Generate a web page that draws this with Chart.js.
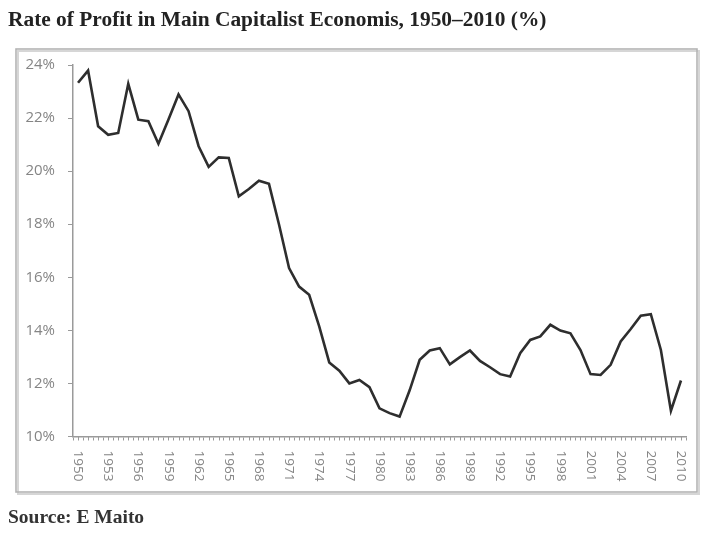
<!DOCTYPE html>
<html>
<head>
<meta charset="utf-8">
<script src="https://cdn.jsdelivr.net/npm/chart.js@4.4.0/dist/chart.umd.min.js"></script>
<style>
  body { margin: 0; background: #fff; }
  #wrap { position: relative; width: 703px; height: 540px; }
  #chart { position: absolute; left: 0; top: 0; }
  .title {
    position: absolute; left: 8px; top: 7px;
    font: bold 21.4px "Liberation Serif", "DejaVu Serif", serif;
    color: #222; white-space: nowrap;
  }
  .source {
    position: absolute; left: 8px; top: 506px;
    font: bold 19.5px "Liberation Serif", "DejaVu Serif", serif;
    color: #333; white-space: nowrap;
  }
</style>
</head>
<body>
<div id="wrap">
  <canvas id="chart" width="703" height="540"></canvas>
  <div class="title">Rate of Profit in Main Capitalist Economis, 1950–2010 (%)</div>
  <div class="source">Source: E Maito</div>
</div>
<script>
// years on the category axis
const years = [
  1950, 1951, 1952, 1953, 1954, 1955, 1956, 1957, 1958, 1959,
  1960, 1961, 1962, 1963, 1964, 1965, 1966, 1967, 1968, 1969,
  1970, 1971, 1972, 1973, 1974, 1975, 1976, 1977, 1978, 1979,
  1980, 1981, 1982, 1983, 1984, 1985, 1986, 1987, 1988, 1989,
  1990, 1991, 1992, 1993, 1994, 1995, 1996, 1997, 1998, 1999,
  2000, 2001, 2002, 2003, 2004, 2005, 2006, 2007, 2008, 2009,
  2010
];

// rate of profit, %
const profitRate = [
  23.33, 23.79, 21.69, 21.37, 21.44, 23.29, 21.94, 21.88, 21.03, 21.95,
  22.89, 22.26, 20.94, 20.16, 20.52, 20.50, 19.05, 19.33, 19.64, 19.52,
  17.99, 16.35, 15.65, 15.34, 14.15, 12.79, 12.48, 12.00, 12.13, 11.86,
  11.06, 10.88, 10.75, 11.74, 12.89, 13.24, 13.33, 12.72, 12.99, 13.24,
  12.85, 12.61, 12.35, 12.26, 13.14, 13.64, 13.77, 14.21, 13.99, 13.89,
  13.26, 12.35, 12.32, 12.70, 13.58, 14.05, 14.55, 14.61, 13.26, 10.97,
  12.11
];

// years that get a label under the axis
const labelYears = [
  1950, 1953, 1956, 1959, 1962, 1965, 1968, 1971, 1974, 1977, 1980,
  1983, 1986, 1989, 1992, 1995, 1998, 2001, 2004, 2007, 2010
];

const axisGrey = '#9a9a9a';
const labelGrey = '#858585';

// frame round the plot, drawn before everything else
const framePlugin = {
  id: 'frame',
  beforeDraw(chart) {
    const ctx = chart.ctx;
    ctx.save();
    ctx.fillStyle = '#fff';
    ctx.fillRect(0, 0, chart.width, chart.height);
    ctx.strokeStyle = '#d6d6d6';
    ctx.lineWidth = 2;
    ctx.strokeRect(18, 51, 681, 443);
    ctx.strokeStyle = '#b4b4b4';
    ctx.lineWidth = 1.6;
    ctx.strokeRect(16, 49, 681, 443);
    ctx.restore();
  }
};

// year labels turned clockwise, plus a small tick in the middle of every year
const yearLabels = {
  id: 'yearLabels',
  afterDraw(chart) {
    const ctx = chart.ctx;
    const x = chart.scales.x;
    const bottom = chart.chartArea.bottom;
    ctx.save();
    ctx.strokeStyle = axisGrey;
    ctx.lineWidth = 1;
    ctx.beginPath();
    for (let i = 0; i < years.length; i++) {
      const px = Math.round(x.getPixelForValue(i)) + 0.5;
      ctx.moveTo(px, bottom);
      ctx.lineTo(px, bottom + 4);
    }
    ctx.stroke();

    ctx.fillStyle = labelGrey;
    ctx.font = '13.5px "Open Sans", sans-serif';
    ctx.textAlign = 'left';
    ctx.textBaseline = 'middle';
    labelYears.forEach(function (yr) {
      const px = x.getPixelForValue(years.indexOf(yr));
      ctx.save();
      ctx.translate(px, bottom + 14);
      ctx.rotate(Math.PI / 2);
      ctx.fillText(String(yr), 0, 0);
      ctx.restore();
    });
    ctx.restore();
  }
};

new Chart(document.getElementById('chart'), {
  type: 'line',
  data: {
    labels: years,
    datasets: [{
      data: profitRate,
      borderColor: '#2e2e2e',
      borderWidth: 2.6,
      pointRadius: 0,
      tension: 0,
      fill: false
    }]
  },
  options: {
    responsive: false,
    animation: false,
    devicePixelRatio: 1,
    layout: { padding: { left: 16, top: 65, right: 17, bottom: 48 } },
    plugins: {
      legend: { display: false },
      tooltip: { enabled: false }
    },
    scales: {
      x: {
        type: 'category',
        offset: true,
        afterFit(scale) { scale.height = 55.5; },
        ticks: { display: false },
        grid: {
          offset: true,
          drawOnChartArea: false,
          drawTicks: true,
          tickLength: 4,
          color: axisGrey,
          lineWidth: 1
        },
        border: { color: axisGrey, width: 1.5 }
      },
      y: {
        min: 10,
        max: 24,
        afterFit(scale) { scale.width = 57; },
        ticks: {
          stepSize: 2,
          padding: 13,
          color: labelGrey,
          font: { family: '"Open Sans", sans-serif', size: 15 },
          callback: function (v) { return v + '%'; }
        },
        grid: {
          drawOnChartArea: false,
          drawTicks: true,
          tickLength: 5,
          color: axisGrey,
          lineWidth: 1
        },
        border: { color: axisGrey, width: 1.5 }
      }
    }
  },
  plugins: [framePlugin, yearLabels]
});
</script>
</body>
</html>
